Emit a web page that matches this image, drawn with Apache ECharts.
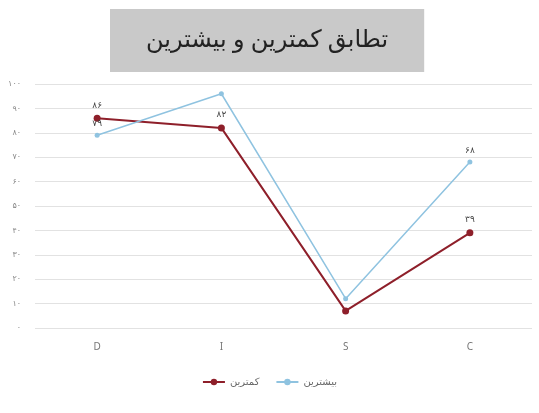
<!DOCTYPE html>
<html><head><meta charset="utf-8">
<script src="https://cdn.jsdelivr.net/npm/echarts@6/dist/echarts.min.js"></script>
<style>html,body{margin:0;padding:0;background:#fff}#c{width:539px;height:413px}</style>
</head><body><div id="c"></div>
<script>
const categories = ['D', 'I', 'S', 'C'];
const seriesNames = ['کمترین', 'بیشترین'];
const minValues = [86, 82, 7, 39];
const maxValues = [79, 96, 12, 68];
const minLabeled = [true, true, false, true];
const maxLabeled = [true, false, false, true];
const titleText = 'تطابق کمترین و بیشترین';

const fa = n => String(n).replace(/\d/g, d => '۰۱۲۳۴۵۶۷۸۹'[d]);
const FONT = '"Noto Sans", "DejaVu Sans", sans-serif';

function mk(vals, lab) {
  return vals.map((v, i) => ({ value: v, label: { show: lab[i] } }));
}

const chart = echarts.init(document.getElementById('c'));
chart.setOption({
  animation: false,
  title: {
    text: titleText, left: 110, top: 9,
    backgroundColor: '#c9c9c9',
    padding: [19, 36, 20, 36],
    textStyle: { fontFamily: FONT, fontSize: 24, fontWeight: 'normal', color: '#222' }
  },
  legend: {
    bottom: 21, left: 'center', itemWidth: 22, itemHeight: 8, itemGap: 16,
    textStyle: { fontFamily: FONT, fontSize: 10, color: '#666' },
    data: seriesNames
  },
  grid: { left: 35, right: 7, top: 84, bottom: 85 },
  xAxis: {
    type: 'category', data: categories, boundaryGap: true,
    axisLine: { show: false }, axisTick: { show: false },
    axisLabel: { fontFamily: FONT, fontSize: 10, color: '#777', margin: 14 }
  },
  yAxis: {
    type: 'value', min: 0, max: 100, interval: 10,
    axisLine: { show: false }, axisTick: { show: false },
    splitLine: { lineStyle: { color: '#e2e2e2', width: 1 } },
    axisLabel: { fontFamily: FONT, fontSize: 8, color: '#888', margin: 14, formatter: v => fa(v) }
  },
  series: [
    {
      name: seriesNames[0], type: 'line', data: mk(minValues, minLabeled),
      color: '#8e1f2a', symbol: 'circle', symbolSize: 7,
      lineStyle: { width: 2, color: '#8e1f2a' },
      label: { position: 'top', distance: 5, fontFamily: FONT, fontSize: 9, color: '#444', formatter: p => fa(p.value) }
    },
    {
      name: seriesNames[1], type: 'line', data: mk(maxValues, maxLabeled),
      color: '#8fc3e0', symbol: 'circle', symbolSize: 5,
      lineStyle: { width: 1.5, color: '#8fc3e0' },
      label: { position: 'top', distance: 5, fontFamily: FONT, fontSize: 9, color: '#444', formatter: p => fa(p.value) }
    }
  ]
});
</script></body></html>
